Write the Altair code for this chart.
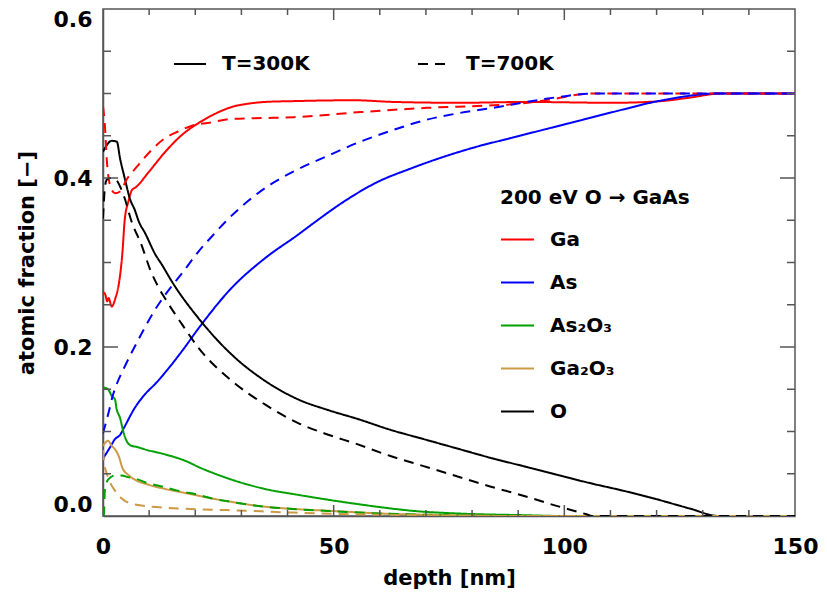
import altair as alt
import pandas as pd

# ---- data ----
species = ["Ga", "As", "As₂O₃", "Ga₂O₃", "O"]
colors = ["#ff0000", "#0000ff", "#00a000", "#cc9944", "#000000"]
temps = ["T=300K", "T=700K"]

ga_300_d = [0, 0.5, 0.9, 1.2, 1.9, 2.7, 3.5, 4.2, 4.7, 5.5, 6.3, 7.1, 9.9, 13.5, 17.1, 20.7, 24.3, 27.9,
            31.5, 35.1, 41.4, 54.4, 63, 77.4, 91.7, 110.5, 121, 127, 134, 150]
ga_300_v = [0.265, 0.262, 0.254, 0.258, 0.248, 0.258, 0.277, 0.311, 0.350, 0.372, 0.386, 0.389, 0.407, 0.431,
            0.451, 0.465, 0.476, 0.484, 0.488, 0.490, 0.491, 0.492, 0.490, 0.489, 0.490, 0.489, 0.491,
            0.495, 0.500, 0.500]

ga_700_d = [0, 0.4, 0.8, 1.5, 2.6, 3.7, 5.1, 7.6, 10.5, 13.4, 16.3, 19.9, 22.7, 27.9, 35.1, 41.4, 55.8,
            70.2, 84.6, 90.4, 97, 106, 150]
ga_700_v = [0.485, 0.463, 0.423, 0.392, 0.382, 0.384, 0.398, 0.415, 0.433, 0.447, 0.455, 0.463, 0.465,
            0.470, 0.471, 0.472, 0.478, 0.483, 0.486, 0.488, 0.493, 0.500, 0.500]

as_300_d = [0, 1.5, 2.6, 3.7, 4.7, 6.9, 9.1, 11.6, 13.5, 17.1, 20.7, 27.9, 35.1, 42.3, 45, 52.2, 59.4,
            66.6, 73.8, 81, 88.2, 95.4, 102.6, 110.5, 121.3, 133.5, 150]
as_300_v = [0.068, 0.081, 0.091, 0.096, 0.106, 0.128, 0.144, 0.158, 0.170, 0.195, 0.222, 0.270, 0.305,
            0.333, 0.344, 0.372, 0.395, 0.411, 0.425, 0.437, 0.447, 0.457, 0.467, 0.478, 0.492, 0.500, 0.500]

as_700_d = [0, 1.1, 2.2, 2.7, 4.9, 7.8, 10.6, 13.5, 17.1, 20.7, 24.3, 26.5, 31.5, 36.5, 41.4, 48.6,
            55.8, 63, 70.2, 77.4, 84.6, 91.8, 99, 106.2, 150]
as_700_v = [0.098, 0.120, 0.144, 0.152, 0.179, 0.210, 0.238, 0.262, 0.287, 0.313, 0.335, 0.348, 0.373,
            0.393, 0.408, 0.426, 0.443, 0.457, 0.469, 0.477, 0.483, 0.490, 0.496, 0.500, 0.500]

aso_300_d = [0.2, 1.1, 1.9, 2.6, 2.9, 3.7, 4.4, 5.1, 6.2, 7.1, 9.6, 12.7, 18.4, 20.7, 24.3, 27.9, 35.1,
             42.3, 47.9, 55.3, 62.3, 67.3, 76.7, 91, 100, 150]
aso_300_v = [0.152, 0.150, 0.142, 0.138, 0.128, 0.116, 0.100, 0.089, 0.083, 0.082, 0.078, 0.074, 0.064,
             0.058, 0.050, 0.043, 0.032, 0.025, 0.020, 0.014, 0.009, 0.006, 0.003, 0.001, 0, 0]

aso_700_d = [0, 0.2, 0.4, 1.1, 2.6, 4.0, 5.4, 7.2, 9.1, 13.5, 16.2, 20.7, 23.4, 27.5, 35, 42, 48.6,
             60, 75, 85, 150]
aso_700_v = [0, 0.002, 0.030, 0.043, 0.048, 0.048, 0.046, 0.044, 0.040, 0.034, 0.030, 0.025, 0.021,
             0.017, 0.011, 0.008, 0.006, 0.003, 0.001, 0, 0]

gao_300_d = [0, 1.1, 1.9, 2.6, 3.4, 4.2, 5.4, 6.9, 9.9, 13.5, 16.2, 20.7, 23.4, 27.5, 35.1, 42.3, 49.5,
             60, 75, 90, 150]
gao_300_v = [0.083, 0.089, 0.083, 0.079, 0.071, 0.057, 0.049, 0.043, 0.037, 0.032, 0.029, 0.024,
             0.021, 0.017, 0.011, 0.008, 0.006, 0.003, 0.001, 0, 0]

gao_700_d = [0, 0.2, 0.9, 1.5, 2.6, 4.0, 6.6, 13, 20, 27, 41.4, 55, 70, 85, 150]
gao_700_v = [0.078, 0.065, 0.049, 0.040, 0.030, 0.021, 0.014, 0.010, 0.008, 0.007, 0.004, 0.002,
             0.001, 0, 0]

o_300_d = [0, 0.6, 1.9, 3.0, 3.7, 4.7, 5.8, 6.9, 7.8, 9.1, 11.4, 12.7, 15.1, 20.7, 27.9, 35.1, 42.3,
           49.0, 55.1, 62.3, 69.5, 76.7, 83.9, 91.1, 98.3, 105.5, 112.7, 119.9, 127.1, 133.5, 150]
o_300_v = [0.431, 0.437, 0.444, 0.443, 0.423, 0.400, 0.376, 0.362, 0.348, 0.335, 0.309, 0.298, 0.276,
           0.234, 0.191, 0.160, 0.138, 0.125, 0.115, 0.102, 0.091, 0.080, 0.069, 0.059, 0.049, 0.039,
           0.030, 0.020, 0.009, 0, 0]

o_700_d = [0, 0.4, 0.8, 1.5, 2.6, 3.7, 4.7, 6.1, 8.4, 10.2, 12.3, 13.5, 17.1, 20.7, 27.9, 35.1, 42.3,
           47.9, 55.1, 62.3, 69.5, 76.7, 83.9, 91.1, 98.3, 104.8, 106, 150]
o_700_v = [0.352, 0.388, 0.398, 0.400, 0.399, 0.390, 0.376, 0.350, 0.320, 0.292, 0.268, 0.257, 0.227,
           0.199, 0.160, 0.132, 0.110, 0.098, 0.085, 0.071, 0.059, 0.047, 0.035, 0.024, 0.012, 0.002,
           0, 0]

series = [
    ("Ga", "T=300K", ga_300_d, ga_300_v),
    ("As", "T=300K", as_300_d, as_300_v),
    ("As₂O₃", "T=300K", aso_300_d, aso_300_v),
    ("Ga₂O₃", "T=300K", gao_300_d, gao_300_v),
    ("O", "T=300K", o_300_d, o_300_v),
    ("Ga", "T=700K", ga_700_d, ga_700_v),
    ("As", "T=700K", as_700_d, as_700_v),
    ("As₂O₃", "T=700K", aso_700_d, aso_700_v),
    ("Ga₂O₃", "T=700K", gao_700_d, gao_700_v),
    ("O", "T=700K", o_700_d, o_700_v),
]

x_ticks = [0, 50, 100, 150]
y_ticks = [0.0, 0.2, 0.4, 0.6]
x_minor = [10, 20, 30, 40, 60, 70, 80, 90, 110, 120, 130, 140]
x_major = [50, 100]
y_minor = [0.05, 0.1, 0.15, 0.25, 0.3, 0.35, 0.45, 0.5, 0.55]
y_major = [0.2, 0.4]

rows = []
order = 0
for sp, t, ds, vs in series:
    for d, v in zip(ds, vs):
        rows.append({"depth": d, "value": v, "species": sp, "temp": t, "series": f"{order:02d}"})
    order += 1
df = pd.DataFrame(rows)

W, H = 692, 507
FONT = "DejaVu Sans"
AX = "#555555"

xscale = alt.Scale(domain=[0, 150], nice=False, zero=False)
yscale = alt.Scale(domain=[0, 0.6], nice=False, zero=False)
xaxis = alt.Axis(values=x_ticks, format="d", labelFlush=False, ticks=False, tickSize=0,
                 grid=False, labelPadding=20, titlePadding=10)
yaxis = alt.Axis(values=y_ticks, format=".1f", labelFlush=True, ticks=False, tickSize=0,
                 grid=False, labelPadding=11, titlePadding=16)
XT = "depth [nm]"
YT = "atomic fraction [−]"

lines = alt.Chart(df).mark_line(strokeWidth=2, clip=True, interpolate="monotone").encode(
    x=alt.X("depth:Q", scale=xscale, title=XT, axis=xaxis),
    y=alt.Y("value:Q", scale=yscale, title=YT, axis=yaxis),
    color=alt.Color("species:N", scale=alt.Scale(domain=species, range=colors),
                    legend=alt.Legend(title="200 eV O → GaAs", orient="none", legendX=397, legendY=179,
                                      symbolType="stroke", symbolSize=1089, symbolStrokeWidth=2,
                                      labelOffset=15, rowPadding=15, titlePadding=14, titleLimit=400,
                                      labelFontSize=20, titleFontSize=20)),
    strokeDash=alt.StrokeDash("temp:N", scale=alt.Scale(domain=temps, range=[[1, 0], [10, 7]]),
                              legend=alt.Legend(title=None, orient="none", direction="horizontal",
                                                legendX=70, legendY=38, symbolType="stroke",
                                                symbolSize=1024, symbolStrokeColor="black",
                                                symbolStrokeWidth=2, labelOffset=15, columnPadding=104,
                                                labelFontSize=20)),
    detail="series:N",
)


def tick_layer(vals, channel, length, side):
    d = pd.DataFrame({channel: vals})
    base = alt.Chart(d).mark_rule(color=AX, strokeWidth=1.5)
    if channel == "depth":
        x = alt.X("depth:Q", scale=xscale, title=XT, axis=xaxis)
        if side == "bottom":
            return base.encode(x=x, y=alt.value(H), y2=alt.value(H - length))
        return base.encode(x=x, y=alt.value(0), y2=alt.value(length))
    y = alt.Y("value:Q", scale=yscale, title=YT, axis=yaxis)
    if side == "left":
        return base.encode(y=y, x=alt.value(0), x2=alt.value(length))
    return base.encode(y=y, x=alt.value(W), x2=alt.value(W - length))


ticks = [
    tick_layer(x_minor, "depth", 6, "bottom"), tick_layer(x_major, "depth", 11, "bottom"),
    tick_layer(x_minor, "depth", 6, "top"), tick_layer(x_major, "depth", 11, "top"),
    tick_layer(y_minor, "value", 8, "left"), tick_layer(y_major, "value", 15, "left"),
    tick_layer(y_minor, "value", 8, "right"), tick_layer(y_major, "value", 15, "right"),
]

chart = alt.layer(lines, *ticks).properties(
    width=W, height=H,
    autosize=alt.AutoSizeParams(type="none"),
    padding={"left": 95, "top": 1, "right": 24, "bottom": 75},
).configure(font=FONT).configure_view(
    stroke=AX, strokeWidth=1.5
).configure_axis(
    labelFont=FONT, labelFontSize=22, labelFontWeight="bold", labelColor="black",
    titleFont=FONT, titleFontSize=21, titleFontWeight="bold", titleColor="black",
    domainColor=AX, domainWidth=1.5,
).configure_legend(
    labelFont=FONT, labelFontWeight="bold", labelColor="black",
    titleFont=FONT, titleFontWeight="bold", titleColor="black", padding=0,
)

chart.save("out.html", embed_options={"renderer": "svg", "actions": False})
